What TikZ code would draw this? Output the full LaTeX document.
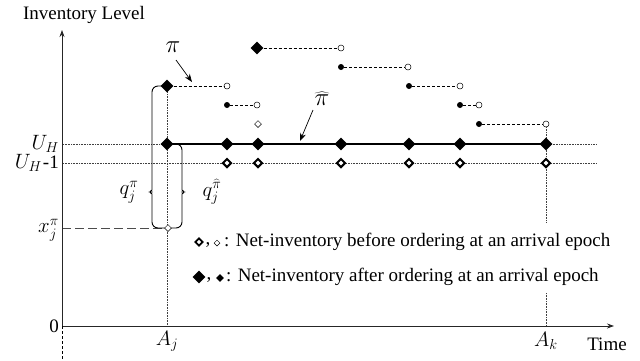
\documentclass[tikz,border=0pt]{standalone}
\usepackage{fontspec}
\setmainfont{Liberation Serif}
\usetikzlibrary{shapes.geometric,arrows.meta}
\pgfdeclarelayer{bg}
\pgfsetlayers{bg,main}
\begin{document}
\begin{tikzpicture}[x=1pt,y=-1pt,
  bigd/.style={diamond,fill=black,inner sep=0pt,minimum size=13pt},
  hold/.style={diamond,draw=black,line width=2pt,fill=white,inner sep=0pt,minimum size=9pt},
  smalld/.style={diamond,draw=black,line width=0.5pt,fill=white,inner sep=0pt,minimum size=7pt},
  fdot/.style={circle,fill=black,inner sep=0pt,minimum size=6pt},
  odot/.style={circle,draw=black,line width=0.5pt,fill=white,inner sep=0pt,minimum size=6pt},
  seg/.style={densely dashed,line width=0.7pt},
  refl/.style={densely dotted,line width=0.6pt,black!75},
  axisl/.style={line width=0.8pt,black!85,-{Stealth[length=7pt,width=5pt]}},
  ptr/.style={line width=0.7pt,-{Stealth[length=8pt,width=6pt]}},
  bracel/.style={line width=0.9pt,black,rounded corners=6pt},
  lab/.style={font=\fontsize{19}{22}\selectfont,inner sep=1pt},
  mlab/.style={font=\fontsize{21}{24}\selectfont,inner sep=0pt},
  plab/.style={font=\fontsize{25}{28}\selectfont,inner sep=0pt},
]
\useasboundingbox (0,0) rectangle (640,360);

% axes
\coordinate (O) at (62,326);
\coordinate (ytop) at (62,30);
\coordinate (ybot) at (62,360);
\coordinate (xend) at (614,326);
\draw[axisl] (O) -- (ytop);
\draw[axisl] (O) -- (xend);
\draw[densely dashed,line width=0.8pt] (O) -- (ybot);

% labels
\node[lab] (ylab) at (84,15) {Inventory Level};
\node[lab] (tlab) at (607,344) {Time};
\node[lab,anchor=east] (zero) at (60,326) {0};
\node[mlab,anchor=east] (uh) at (59,144) {$U_H$};
\node[mlab,anchor=east] (uh1) at (59,163) {$U_H$\hspace{1pt}{\fontsize{19}{22}\selectfont -1}};
\node[mlab,anchor=east] (xj) at (59,230) {$x_j^{\pi}$};
\node[mlab] (aj) at (167,341) {$A_j$};
\node[mlab] (ak) at (546,341) {$A_k$};
\node[plab] (pi) at (173,47) {$\pi$};
\node[plab] (pih) at (322,99) {$\widehat{\pi}$};
\node[mlab] (qj) at (129,192) {$q_j^{\pi}$};
\node[mlab] (qjh) at (212,192) {$q_j^{\widehat{\pi}}$};

% reference lines
\coordinate (uhL) at (63,144);
\coordinate (uhR) at (597,144);
\coordinate (ubL) at (63,163);
\coordinate (ubR) at (597,163);

% markers: U_H row
\foreach \n/\x in {1/167,2/227,3/258,4/341,5/409,6/460,7/546}
  \node[bigd] (h\n) at (\x,144) {};
% U_H-1 row
\foreach \n/\x in {2/227,3/258,4/341,5/409,6/460,7/546}
  \node[hold] (b\n) at (\x,163) {};

% policy pi trajectory
\node[bigd] (p1) at (167,86) {};
\node[odot] (o1) at (227,86) {};
\node[fdot] (f2) at (227,105) {};
\node[odot] (o2) at (257,105) {};
\node[smalld] (s3) at (258,124) {};
\node[bigd] (p4) at (257,48) {};
\node[odot] (o4) at (341,48) {};
\node[fdot] (f5) at (341,67) {};
\node[odot] (o5) at (408,67) {};
\node[fdot] (f6) at (409,86) {};
\node[odot] (o6) at (460,86) {};
\node[fdot] (f7) at (460,105) {};
\node[odot] (o7) at (479,105) {};
\node[fdot] (f8) at (479,124) {};
\node[odot] (o8) at (546,124) {};
\node[smalld] (xo) at (168,228) {};

\coordinate (ajx) at (167,326);
\coordinate (ak1) at (546,222);
\coordinate (ak2) at (546,293);
\coordinate (akx) at (546,326);
\coordinate (xjy) at (62,228);

\begin{pgfonlayer}{bg}
  \draw[refl] (uhL) -- (uhR);
  \draw[refl] (ubL) -- (ubR);
  \draw[refl] (p1.center) -- (ajx);
  \draw[refl] (o8.center) -- (ak1);
  \draw[refl] (ak2) -- (akx);
  \draw[line width=2.5pt] (h1.center) -- (h7.center);
  \draw[dash pattern=on 9pt off 4pt,line width=0.8pt,black!70] (xjy) -- (xo.center);
  % braces
  \draw[bracel] (p1.center) -- (152,86) -- (152,184)
     .. controls (152,190) and (149,192) .. (145,192)
     .. controls (149,192) and (152,194) .. (152,200) -- (152,228) -- (xo.center);
  \draw[bracel] (h1.center) -- (182,144) -- (182,184)
     .. controls (182,190) and (185,192) .. (189,192)
     .. controls (185,192) and (182,194) .. (182,200) -- (182,228) -- (xo.center);
\end{pgfonlayer}

% dashed segments
\draw[seg] (p1) -- (o1);
\draw[seg] (f2) -- (o2);
\draw[seg] (p4) -- (o4);
\draw[seg] (f5) -- (o5);
\draw[seg] (f6) -- (o6);
\draw[seg] (f7) -- (o7);
\draw[seg] (f8) -- (o8);

% pointers
\coordinate (pia) at (176,60);
\coordinate (pib) at (192,82);
\coordinate (piha) at (313,110);
\coordinate (pihb) at (300,141);
\draw[ptr] (pia) -- (pib);
\draw[ptr] (piha) -- (pihb);

% legend
\node[hold,minimum size=8pt,line width=1.8pt] (lg1a) at (199,242) {};
\node[lab] (c1) at (208,245) {,};
\node[smalld,minimum size=6pt] (lg1b) at (217,243) {};
\node[lab,anchor=west] (lg1t) at (223,242) {: Net-inventory before ordering at an arrival epoch};
\node[bigd] (lg2a) at (199,277) {};
\node[lab] (c2) at (209,280) {,};
\node[bigd,minimum size=8pt] (lg2b) at (220,278) {};
\node[lab,anchor=west] (lg2t) at (225,277) {: Net-inventory after ordering at an arrival epoch};
\end{tikzpicture}
\end{document}
